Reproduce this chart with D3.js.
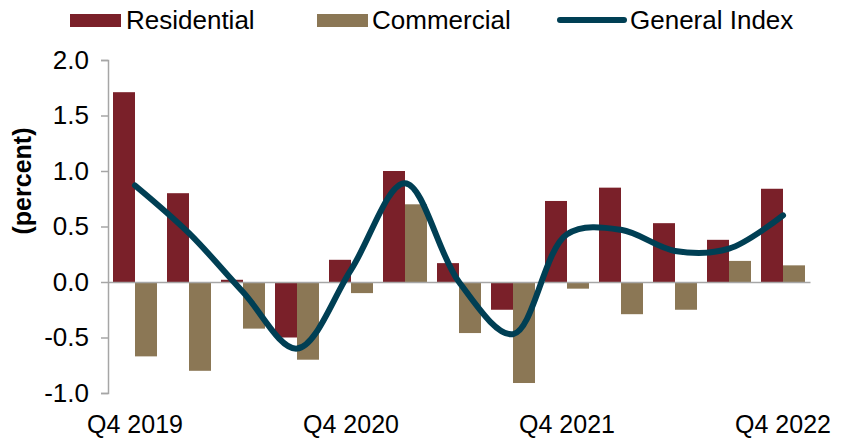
<!DOCTYPE html>
<html>
<head>
<meta charset="utf-8">
<script src="https://cdn.jsdelivr.net/npm/d3@7"></script>
<style>
  html, body { margin: 0; padding: 0; background: #fff; }
  svg { display: block; font-family: "Liberation Sans", Arial, sans-serif; }
</style>
</head>
<body>
<svg id="chart" width="843" height="439"></svg>
<script>
// Quarterly price changes, percent
const quarters = ["Q4 2019", "Q1 2020", "Q2 2020", "Q3 2020", "Q4 2020", "Q1 2021", "Q2 2021",
                  "Q3 2021", "Q4 2021", "Q1 2022", "Q2 2022", "Q3 2022", "Q4 2022"];
const residential = [1.71, 0.80, 0.02, -0.50, 0.20, 1.00, 0.17, -0.25, 0.73, 0.85, 0.53, 0.38, 0.84];
const commercial = [-0.67, -0.80, -0.42, -0.70, -0.10, 0.70, -0.46, -0.91, -0.06, -0.29, -0.25, 0.19, 0.15];
const generalIndex = [0.87, 0.44, -0.09, -0.60, 0.11, 0.89, 0.00, -0.47, 0.43, 0.47, 0.28, 0.30, 0.60];
const yTicks = [-1.0, -0.5, 0.0, 0.5, 1.0, 1.5, 2.0];
const xTickLabels = ["Q4 2019", "Q4 2020", "Q4 2021", "Q4 2022"];
const seriesNames = ["Residential", "Commercial"];

const colors = { Residential: "#7a2029", Commercial: "#8b7755", line: "#003f54" };

const svg = d3.select("#chart");
const plotLeft = 108, plotRight = 810, plotTop = 60, plotBottom = 393;

const y = d3.scaleLinear().domain([-1, 2]).range([plotBottom, plotTop]);
const x0 = d3.scaleBand().domain(quarters).range([plotLeft, plotRight])
  .paddingInner(10 / 54).paddingOuter(5 / 54);
const x1 = d3.scaleBand().domain(seriesNames).range([0, x0.bandwidth()]);

const rows = quarters.map((q, i) => ({ q, Residential: residential[i], Commercial: commercial[i] }));

// Bars
const groups = svg.append("g").selectAll("g").data(rows).join("g")
  .attr("transform", d => `translate(${x0(d.q)},0)`);
groups.selectAll("rect")
  .data(d => seriesNames.map(k => ({ k, v: d[k] })))
  .join("rect")
  .attr("x", d => x1(d.k))
  .attr("width", x1.bandwidth())
  .attr("y", d => y(Math.max(0, d.v)))
  .attr("height", d => Math.abs(y(d.v) - y(0)))
  .attr("fill", d => colors[d.k]);

// Y axis (plain hyphen for negatives)
const yAxis = d3.axisLeft(y).tickValues(yTicks).tickFormat(d => d.toFixed(1)).tickSize(7).tickPadding(12);
const gy = svg.append("g").attr("transform", `translate(${plotLeft},0)`).call(yAxis);
gy.select(".domain").attr("stroke", "#a6a6a6").attr("stroke-width", 1.5);
gy.selectAll(".tick line").attr("stroke", "#a6a6a6").attr("stroke-width", 1.5);
gy.selectAll(".tick text").attr("font-size", 26).attr("fill", "#000")
  .attr("font-family", "Liberation Sans, Arial, sans-serif");

// Zero baseline with quarter labels
const xAxis = d3.axisBottom(x0).tickValues(xTickLabels).tickSize(0).tickPadding(0);
const gx = svg.append("g").attr("transform", `translate(0,${y(0)})`).call(xAxis);
gx.select(".domain").attr("stroke", "#a6a6a6").attr("stroke-width", 1.5);
gx.selectAll(".tick text")
  .attr("y", y(-1) - y(0) + 40)
  .attr("dy", null)
  .attr("font-size", 25).attr("fill", "#000")
  .attr("font-family", "Liberation Sans, Arial, sans-serif");

// General index line
const line = d3.line()
  .x((d, i) => x0(quarters[i]) + x0.bandwidth() / 2)
  .y(d => y(d))
  .curve(d3.curveCatmullRom.alpha(0.5));
svg.append("path").datum(generalIndex)
  .attr("d", line)
  .attr("fill", "none")
  .attr("stroke", colors.line)
  .attr("stroke-width", 6)
  .attr("stroke-linecap", "round")
  .attr("stroke-linejoin", "round");

// Axis title
svg.append("text")
  .attr("transform", `translate(31,181) rotate(-90)`)
  .attr("text-anchor", "middle")
  .attr("font-size", 25).attr("font-weight", "bold")
  .text("(percent)");

// Legend
const legend = svg.append("g");
const legendItems = [
  { name: "Residential", kind: "rect", x: 70, tx: 126 },
  { name: "Commercial", kind: "rect", x: 317, tx: 372 },
  { name: "General Index", kind: "line", x: 560, tx: 630 }
];
legendItems.forEach(it => {
  if (it.kind === "rect") {
    legend.append("rect").attr("x", it.x).attr("y", 14).attr("width", 51).attr("height", 13)
      .attr("fill", colors[it.name]);
  } else {
    legend.append("line").attr("x1", it.x).attr("x2", it.x + 64).attr("y1", 20).attr("y2", 20)
      .attr("stroke", colors.line).attr("stroke-width", 6).attr("stroke-linecap", "round");
  }
  legend.append("text").attr("x", it.tx).attr("y", 29).attr("font-size", 26).text(it.name);
});
</script>
</body>
</html>
